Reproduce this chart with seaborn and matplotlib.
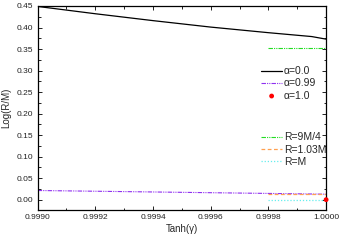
import matplotlib
matplotlib.use("Agg")
import matplotlib.pyplot as plt
import numpy as np
import pandas as pd
import seaborn as sns
from matplotlib.ticker import MultipleLocator

# data
tanh_gamma = [0.9990, 0.9992, 0.9994, 0.9996, 0.9998, 0.99995, 1.0000]
log_r_a00 = [0.449, 0.432, 0.416, 0.401, 0.388, 0.379, 0.373]
log_r_a099 = [0.0213, 0.0196, 0.0179, 0.0162, 0.0145, 0.0132, 0.0127]
a10_x = [1.0000]
a10_y = [0.0]

ref_x = [0.9998, 1.0000]
ref_9m4 = [0.352, 0.352]
ref_103m = [0.0128, 0.0128]
ref_m = [0.0, 0.0]

sns.set_theme(style="ticks")
plt.rcParams["font.family"] = ["Liberation Sans", "DejaVu Sans"]

fig = plt.figure(figsize=(3.39, 2.40), dpi=100)
ax = fig.add_axes([0.111, 0.125, 0.851, 0.85])

df_a = pd.DataFrame({"x": tanh_gamma, "a00": log_r_a00, "a099": log_r_a099})
sns.lineplot(data=df_a, x="x", y="a00", ax=ax, color="black", lw=0.9,
             label="α=0.0")
sns.lineplot(data=df_a, x="x", y="a099", ax=ax, color="#9030f0", lw=0.8,
             label="α=0.99")
ax.lines[-1].set_linestyle((0, (4, 1, 1, 1, 1, 1)))
sns.scatterplot(x=a10_x, y=a10_y, ax=ax, color="red", s=12, edgecolor="none",
                label="α=1.0", zorder=5, clip_on=False)

df_r = pd.DataFrame({"x": ref_x, "r1": ref_9m4, "r2": ref_103m, "r3": ref_m})
sns.lineplot(data=df_r, x="x", y="r1", ax=ax, color="#22dd22", lw=0.8, legend=False)
ax.lines[-1].set_linestyle((0, (4, 1, 1, 1, 1, 1)))
sns.lineplot(data=df_r, x="x", y="r2", ax=ax, color="#ffa050", lw=0.9, legend=False)
ax.lines[-1].set_linestyle((0, (3, 2)))
sns.lineplot(data=df_r, x="x", y="r3", ax=ax, color="#66eeee", lw=0.9, legend=False)
ax.lines[-1].set_linestyle((0, (1, 1.5)))

leg_kw = dict(loc="upper left", frameon=False, fontsize=7.5, handlelength=2.0,
              handletextpad=0.2, labelspacing=0.22, borderaxespad=0,
              borderpad=0)
handles, labels = ax.get_legend_handles_labels()
leg1 = ax.legend(handles[:3], labels[:3], bbox_to_anchor=(0.775, 0.705), **leg_kw)
ax.add_artist(leg1)

h2 = [ax.lines[2], ax.lines[3], ax.lines[4]]
ax.legend(h2, ["R=9M/4", "R=1.03M", "R=M"], bbox_to_anchor=(0.775, 0.38), **leg_kw)

ax.set_xlim(0.9990, 1.0000)
ax.set_ylim(-0.024, 0.45)
ax.xaxis.set_major_locator(MultipleLocator(0.0002))
ax.xaxis.set_minor_locator(MultipleLocator(0.0001))
ax.yaxis.set_major_locator(MultipleLocator(0.05))
ax.yaxis.set_minor_locator(MultipleLocator(0.025))
ax.xaxis.set_major_formatter(matplotlib.ticker.FormatStrFormatter("%.4f"))
ax.yaxis.set_major_formatter(matplotlib.ticker.FormatStrFormatter("%.2f"))
ax.tick_params(which="both", direction="in", top=True, right=True,
               labelsize=6, width=0.7, colors="#222222", pad=3)
ax.tick_params(which="major", length=3)
ax.tick_params(which="minor", length=1.8)
for s in ax.spines.values():
    s.set_linewidth(0.9)
    s.set_color("black")

ax.set_xlabel("Tanh(γ)", fontsize=7, labelpad=2)
ax.set_ylabel("Log(R/M)", fontsize=7, labelpad=4)

fig.savefig("out.png", dpi=100)
